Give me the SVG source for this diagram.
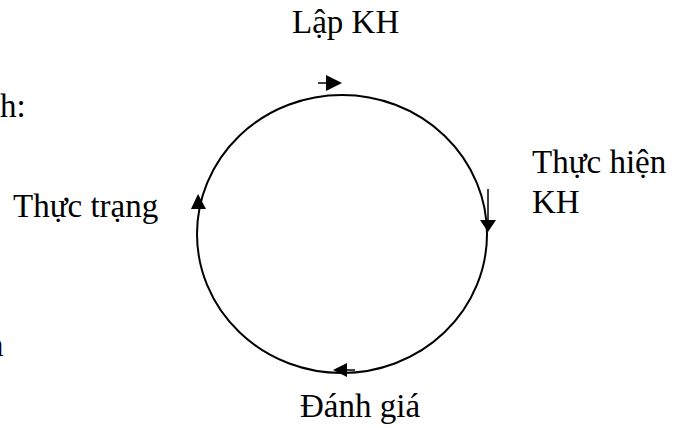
<svg xmlns="http://www.w3.org/2000/svg" width="689" height="428" viewBox="0 0 689 428">
<style>
text{font-family:"Liberation Serif","Times New Roman",serif;font-size:33px;fill:#000}
.c{fill:none;stroke:#000;stroke-width:2}
.a{stroke:#000;stroke-width:1.5;fill:none}
.h{fill:#000;stroke:none}
</style>
<rect width="689" height="428" fill="#fff"/>
<g id="labels">
<text x="0" y="117">h:</text>
<text x="-13" y="356">n</text>
</g>
<g id="node-lapkh"><text x="292" y="33">Lập KH</text></g>
<g id="node-thuchien"><text x="532" y="173">Thực hiện</text><text x="532" y="213">KH</text></g>
<g id="node-danhgia"><text x="300" y="417">Đánh giá</text></g>
<g id="node-thuctrang"><text x="13" y="217">Thực trạng</text></g>
<g id="connectors">
<ellipse class="c" cx="342" cy="234" rx="145" ry="139"/>
<line class="a" x1="318" y1="83" x2="328" y2="83"/>
<polygon class="h" points="326,75 342,83 326,91"/>
<line class="a" x1="488" y1="189" x2="488" y2="222"/>
<polygon class="h" points="480,220 496,220 488,232"/>
<line class="a" x1="355" y1="370" x2="345" y2="370"/>
<polygon class="h" points="347,363 347,377 333,370"/>
<polygon class="h" points="198,194 206,209 191,209"/>
</g>
</svg>
